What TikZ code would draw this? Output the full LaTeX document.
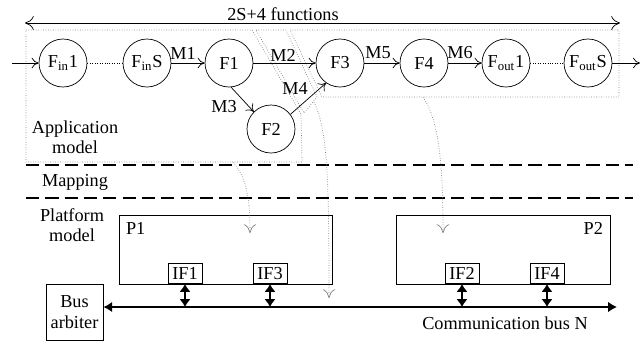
\documentclass[tikz,border=0pt]{standalone}
\usepackage{fontspec}
\setmainfont{Liberation Serif}
\usetikzlibrary{arrows.meta}

\begin{document}
\begin{tikzpicture}
  [x=0.02cm,y=-0.02cm,
    every node/.style={font=\fontsize{10.4}{11.5}\selectfont},
    func/.style={draw,circle,minimum size=0.96cm,inner sep=0pt},
    msg/.style={-{To[length=4pt,width=6pt]}},
    part/.style={draw=gray,densely dotted,line width=0.4pt},
    mapping/.style={draw=gray,densely dotted,-{To[length=5pt,width=7pt]}},
    layer/.style={line width=1.1pt,dash pattern=on 7.5pt off 3.5pt},
    cpu/.style={draw,minimum height=1.38cm,inner sep=0pt},
    ifbox/.style={draw,anchor=south,minimum height=0.4cm,inner xsep=2.5pt,inner ysep=0pt},
    link/.style={line width=1.6pt,{Latex[length=4.5pt,width=6.5pt]}-{Latex[length=4.5pt,width=6.5pt]}},
    bus/.style={line width=1.1pt,{Latex[length=5pt,width=6pt]}-{Latex[length=5pt,width=6pt]}},
  ]
  \useasboundingbox (0,0) rectangle (643,343);

  % partitions of the application
  \draw[part] (26,30) -- (252,30) -- (301,114) -- (302,162) -- (26,162) -- cycle;
  \draw[part] (256,30) -- (286,30) -- (317,97) -- (304,113) -- cycle;
  \draw[part] (290,30) -- (619,30) -- (619,97) -- (322,97) -- cycle;

  % functions
  \coordinate (topL) at (25,23);
  \coordinate (topR) at (620,23);
  \draw[{To[length=5pt,width=8pt]}-{To[length=5pt,width=8pt]}] (topL) -- (topR);
  \node (count) at (283,14) {2S+4 functions};

  \node[func] (fin1) at (63,63) {F\textsubscript{in}1};
  \node[func] (finS) at (147,63) {F\textsubscript{in}S};
  \node[func] (f1) at (229,63) {F1};
  \node[func] (f2) at (271,129) {F2};
  \node[func] (f3) at (340,63) {F3};
  \node[func] (f4) at (424,63) {F4};
  \node[func] (fout1) at (506,63) {F\textsubscript{out}1};
  \node[func] (foutS) at (588,63) {F\textsubscript{out}S};

  \coordinate (in) at (12,63);
  \coordinate (out) at (640,63);
  \draw[msg] (in) -- (fin1);
  \draw[densely dotted] (fin1) -- (finS);
  \draw[msg] (finS) -- (f1);
  \draw[msg] (f1) -- (f3);
  \draw[msg] (f1.-85) -- (f2.135);
  \draw[msg] (f2.37) -- (f3.235);
  \draw[msg] (f3) -- (f4);
  \draw[msg] (f4) -- (fout1);
  \draw[densely dotted] (fout1) -- (foutS);
  \draw[msg] (foutS) -- (out);

  \node[inner sep=0pt] (m1) at (183,53) {M1};
  \node[inner sep=0pt] (m2) at (283,55) {M2};
  \node[inner sep=0pt] (m3) at (224,107) {M3};
  \node[inner sep=0pt] (m4) at (295,88) {M4};
  \node[inner sep=0pt] (m5) at (378,53) {M5};
  \node[inner sep=0pt] (m6) at (460,53) {M6};

  \node[align=center] (app) at (75,137) {Application\\model};

  % layers
  \coordinate (d1L) at (26,165);
  \coordinate (d1R) at (633,165);
  \coordinate (d2L) at (26,198);
  \coordinate (d2R) at (633,198);
  \draw[layer] (d1L) -- (d1R);
  \draw[layer] (d2L) -- (d2R);
  \node (map) at (75,182) {Mapping};
  \node[align=center] (plat) at (72,225) {Platform\\model};

  % platform
  \node[cpu,minimum width=4.26cm] (p1) at (225.5,249.5) {};
  \node[cpu,minimum width=4.28cm] (p2) at (503,249.5) {};
  \node[anchor=north west,inner sep=4pt] at (p1.north west) {P1};
  \node[anchor=north east,inner sep=4pt] at (p2.north east) {P2};

  \node[ifbox] (if1) at (185,284) {IF1};
  \node[ifbox] (if3) at (270,284) {IF3};
  \node[ifbox] (if2) at (462,284) {IF2};
  \node[ifbox] (if4) at (547,284) {IF4};

  \node[draw,minimum width=1.14cm,minimum height=1.12cm,align=center,inner sep=0pt] (arbiter) at (74.5,312) {Bus\\arbiter};
  \coordinate (busR) at (617,307);
  \draw[bus] (arbiter.east |- busR) -- (busR);
  \node (busname) at (505,323) {Communication bus N};

  \foreach \i in {if1,if3,if2,if4}
    \draw[link] (\i.south) -- (\i.south |- busR);

  % mapping arrows
  \coordinate (mapA) at (233,162);
  \coordinate (toA) at (250,233);
  \coordinate (mapB) at (423,97);
  \coordinate (toB) at (443,233);
  \coordinate (mapM) at (314,102);
  \coordinate (toM) at (329,298);
  \draw[mapping] (mapA) .. controls (247,178) and (250,200) .. (toA);
  \draw[mapping] (mapB) .. controls (440,122) and (443,170) .. (toB);
  \draw[mapping] (mapM) .. controls (327,130) and (329,170) .. (toM);
\end{tikzpicture}
\end{document}
